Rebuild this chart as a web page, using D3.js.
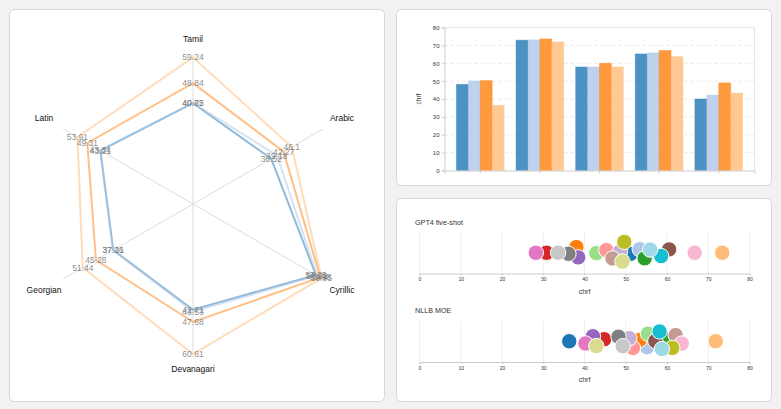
<!DOCTYPE html>
<html><head><meta charset="utf-8">
<script src="https://cdn.jsdelivr.net/npm/d3@7"></script>
<style>
body{margin:0;background:#f2f2f2;}
svg{display:block;font-family:"Liberation Sans",Arial,sans-serif;}
</style></head><body>
<svg id="c" width="781" height="409"></svg>
<script>
// ---------- DATA ----------
const scripts = ["Tamil","Arabic","Cyrillic","Devanagari","Georgian","Latin"];
const seriesNames = ["s1","s2","s3","s4"];
const seriesColors = ["#1f77b4","#aec7e8","#ff7f0e","#ffbb78"];
const radarS1 = [40.72, 36.52, 57.35, 42.71, 37.21, 43.21];
const radarS2 = [40.85, 39.18, 57.92, 43.53, 37.36, 43.34];
const radarS3 = [48.84, 42.27, 59.38, 47.68, 45.28, 49.31];
const radarS4 = [59.24, 46.1, 59.95, 60.61, 51.44, 53.91];

const barGroups = ["g1","g2","g3","g4","g5"];
const barS1 = [48.2, 72.9, 57.9, 65.2, 40.0];
const barS2 = [50.1, 73.1, 57.9, 65.8, 42.2];
const barS3 = [50.3, 73.6, 60.0, 67.1, 49.0];
const barS4 = [36.4, 71.9, 57.9, 63.7, 43.3];
const barTicks = [0,10,20,30,40,50,60,70,80];

const tab20 = ["#1f77b4","#aec7e8","#ff7f0e","#ffbb78","#2ca02c","#98df8a","#d62728","#ff9896","#9467bd","#c5b0d5","#8c564b","#c49c94","#e377c2","#f7b6d2","#7f7f7f","#c7c7c7","#bcbd22","#dbdb8d","#17becf","#9edae5"];
const swarmTitles = ["GPT4 five-shot","NLLB MOE"];
const gptScores  = [51.2,53.4,38.0,73.4,54.6,42.9,30.8,45.3,38.4,48.7,60.4,46.9,28.2,66.7,36.2,33.6,49.5,49.1,58.7,55.8];
const nllbScores = [36.3,55.3,53.3,71.8,60.0,55.3,44.7,51.8,42.0,51.0,57.0,61.9,40.3,63.5,48.3,49.3,60.8,42.9,58.3,59.1];
const swarmTicks = [0,10,20,30,40,50,60,70,80];

// ---------- PANELS ----------
const svg = d3.select("#c");
const panels = [
  {x:9.5,y:9.5,w:375,h:392},
  {x:396.5,y:9.5,w:375,h:176},
  {x:396.5,y:198.5,w:375,h:203}
];
svg.selectAll("rect.panel").data(panels).join("rect").attr("class","panel")
  .attr("x",d=>d.x).attr("y",d=>d.y).attr("width",d=>d.w).attr("height",d=>d.h)
  .attr("rx",5).attr("fill","#fff").attr("stroke","#d6d6d6");

// ---------- RADAR ----------
(function(){
  const cx=193, cy=204, R=150;
  const all = [radarS1,radarS2,radarS3,radarS4];
  const r = d3.scaleLinear().domain([0,d3.max(all.flat())]).range([0,R]);
  const ang = d3.scalePoint().domain(scripts).range([0,2*Math.PI*5/6]);
  const g = svg.append("g").attr("transform",`translate(${cx},${cy})`);
  const pt = (a,rad)=>[Math.sin(a)*rad, -Math.cos(a)*rad];
  g.selectAll("line.ax").data(scripts).join("line")
    .attr("x1",0).attr("y1",0)
    .attr("x2",d=>pt(ang(d),R)[0]).attr("y2",d=>pt(ang(d),R)[1])
    .attr("stroke","#dcdcdc").attr("stroke-width",1);
  const line = d3.lineRadial().angle((d,i)=>ang(scripts[i])).radius(d=>r(d)).curve(d3.curveLinearClosed);
  g.selectAll("path.s").data(all).join("path")
    .attr("d",line).attr("fill","none")
    .attr("stroke",(d,i)=>seriesColors[i]).attr("stroke-width",2).attr("stroke-opacity",0.5);
  all.forEach((s,si)=>{
    g.selectAll("text.v"+si).data(s).join("text").attr("class","v"+si)
      .attr("x",(d,i)=>pt(ang(scripts[i]),r(d))[0])
      .attr("y",(d,i)=>pt(ang(scripts[i]),r(d))[1])
      .attr("dy","0.35em").attr("text-anchor","middle")
      .attr("font-size",8.5).attr("fill","#777").attr("fill-opacity",0.85)
      .text(d=>d);
  });
  g.selectAll("text.lab").data(scripts).join("text").attr("class","lab")
    .attr("x",d=>{const a=ang(d);return Math.sin(a)*(Math.abs(Math.sin(a))>0.1?172:165);})
    .attr("y",d=>{const a=ang(d);return -Math.cos(a)*(Math.abs(Math.sin(a))>0.1?172:165);})
    .attr("dy","0.35em").attr("text-anchor","middle")
    .attr("font-size",8.5).attr("fill","#111").text(d=>d);
})();

// ---------- BAR CHART ----------
(function(){
  const left=444.5, right=754.5, top=27.5, bottom=170.5;
  const x = d3.scaleBand().domain(barGroups).range([left,right]).paddingInner(0.2).paddingOuter(0.2);
  const xs = d3.scaleBand().domain(seriesNames).range([0,x.bandwidth()]);
  const y = d3.scaleLinear().domain([0,80]).range([bottom,top]);
  const g = svg.append("g");
  g.selectAll("line.grid").data(barTicks.slice(1,-1)).join("line").attr("class","grid")
    .attr("x1",left).attr("x2",right).attr("y1",d=>y(d)).attr("y2",d=>y(d))
    .attr("stroke","#e8e8e8").attr("stroke-dasharray","3,3");
  g.append("line").attr("x1",left).attr("x2",right).attr("y1",top).attr("y2",top).attr("stroke","#e4e4e4");
  g.append("line").attr("x1",right).attr("x2",right).attr("y1",top).attr("y2",bottom).attr("stroke","#e4e4e4");
  const series=[barS1,barS2,barS3,barS4];
  series.forEach((s,si)=>{
    g.selectAll("rect.b"+si).data(s).join("rect").attr("class","b"+si)
      .attr("x",(d,i)=>x(barGroups[i])+xs(seriesNames[si]))
      .attr("width",xs.bandwidth())
      .attr("y",d=>y(d)).attr("height",d=>y(0)-y(d))
      .attr("fill",seriesColors[si]).attr("fill-opacity",0.8)
      .attr("stroke",seriesColors[si]).attr("stroke-opacity",0.35).attr("stroke-width",1);
  });
  const ya = g.append("g").attr("transform",`translate(${left},0)`)
    .call(d3.axisLeft(y).tickValues(barTicks).tickSize(3).tickPadding(2));
  ya.selectAll("text").attr("font-size",6).attr("fill","#333").attr("font-family","Liberation Sans, Arial, sans-serif");
  ya.selectAll("line,path").attr("stroke","#ccc");
  const xa = g.append("g").attr("transform",`translate(0,${bottom})`)
    .call(d3.axisBottom(x).tickSize(3).tickFormat(""));
  xa.selectAll("line,path").attr("stroke","#ccc");
  g.append("text").attr("transform",`translate(421,${(top+bottom)/2}) rotate(-90)`)
    .attr("text-anchor","middle").attr("font-size",6.5).attr("fill","#333").text("chrf");
})();

// ---------- SWARMS ----------
function swarm(scores, title, topY){
  const left=419.5, right=749.5;
  const plotTop=topY+16, axisY=topY+57.5;
  const cy=(plotTop+axisY)/2;
  const x = d3.scaleLinear().domain([0,80]).range([left,right]);
  const g = svg.append("g");
  g.append("text").attr("x",415).attr("y",topY+8.5).attr("font-size",7.2).attr("fill","#333").text(title);
  g.selectAll("line.vg").data(swarmTicks).join("line").attr("class","vg")
    .attr("x1",d=>x(d)).attr("x2",d=>x(d)).attr("y1",plotTop).attr("y2",axisY)
    .attr("stroke","#f0f0f0");
  const xa = g.append("g").attr("transform",`translate(0,${axisY})`)
    .call(d3.axisBottom(x).tickValues(swarmTicks).tickSize(2).tickPadding(2));
  xa.selectAll("text").attr("font-size",5).attr("fill","#333").attr("font-family","Liberation Sans, Arial, sans-serif");
  xa.selectAll("line,path").attr("stroke","#ccc");
  g.append("text").attr("x",(left+right)/2).attr("y",axisY+20).attr("text-anchor","middle")
    .attr("font-size",7).attr("fill","#333").text("chrf");
  const nodes = scores.map((v,i)=>({v,i,x:x(v),y:cy}));
  const sim = d3.forceSimulation(nodes)
    .force("x",d3.forceX(d=>x(d.v)).strength(1))
    .force("y",d3.forceY(cy).strength(0.12))
    .force("c",d3.forceCollide(5.2))
    .stop();
  for(let k=0;k<300;k++) sim.tick();
  g.selectAll("circle").data(nodes).join("circle")
    .attr("cx",d=>d.x).attr("cy",d=>d.y).attr("r",7.7)
    .attr("fill",d=>tab20[d.i]).attr("stroke","#fff").attr("stroke-width",1);
}
swarm(gptScores, swarmTitles[0], 216);
swarm(nllbScores, swarmTitles[1], 304.5);
</script></body></html>
